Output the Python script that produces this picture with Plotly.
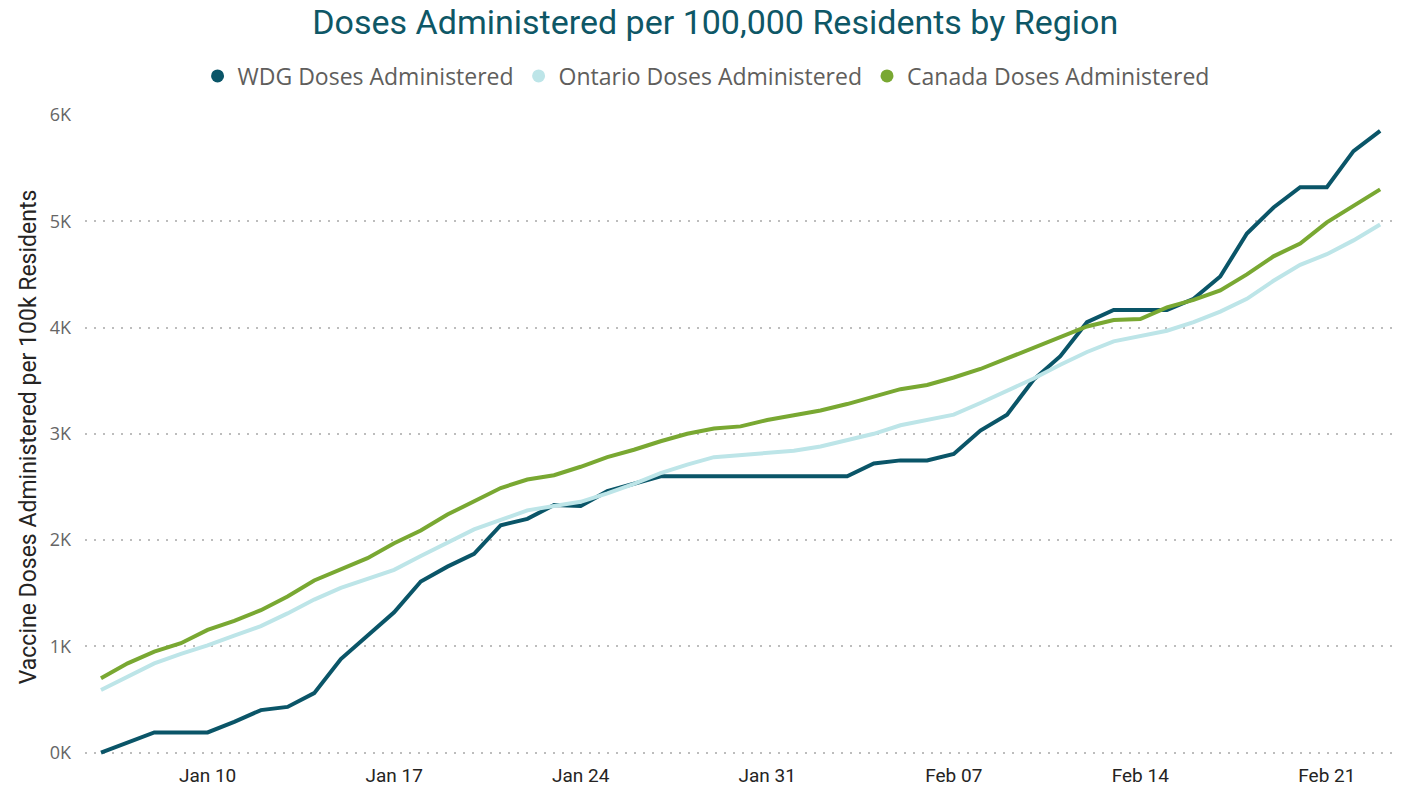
import plotly.graph_objects as go
import pandas as pd

dates = pd.date_range("2021-01-06", "2021-02-23", freq="D")

wdg = [0, 100, 190, 190, 190, 290, 400, 430, 560, 880,
       1100, 1320, 1610, 1750, 1870, 2140, 2200, 2330, 2320, 2460,
       2530, 2600, 2600, 2600, 2600, 2600, 2600, 2600, 2600, 2720,
       2750, 2750, 2810, 3030, 3180, 3510, 3730, 4050, 4165, 4165,
       4165, 4270, 4480, 4885, 5130, 5320, 5320, 5660, 5850]
ontario = [590, 720, 840, 930, 1010, 1100, 1190, 1310, 1440, 1550,
           1640, 1720, 1850, 1970, 2100, 2190, 2280, 2320, 2360, 2440,
           2530, 2630, 2710, 2780, 2800, 2820, 2840, 2880, 2940, 3000,
           3080, 3130, 3180, 3290, 3400, 3520, 3650, 3770, 3870, 3920,
           3970, 4050, 4150, 4270, 4440, 4590, 4690, 4820, 4970]
canada = [700, 840, 950, 1030, 1155, 1240, 1340, 1470, 1620, 1730,
          1830, 1970, 2090, 2240, 2370, 2490, 2570, 2610, 2690, 2780,
          2850, 2930, 3000, 3050, 3070, 3130, 3175, 3220, 3280, 3350,
          3420, 3460, 3530, 3610, 3710, 3810, 3920, 4010, 4070, 4080,
          4190, 4260, 4350, 4500, 4670, 4790, 4990, 5140, 5300]

series_names = ["WDG Doses Administered", "Ontario Doses Administered", "Canada Doses Administered"]
colors = ["#0A5568", "#BDE5E8", "#79A832"]

y_tickvals = [0, 1000, 2000, 3000, 4000, 5000, 6000]
y_ticktext = ["0K", "1K", "2K", "3K", "4K", "5K", "6K"]
x_tickvals = pd.to_datetime(["2021-01-10", "2021-01-17", "2021-01-24", "2021-01-31",
                             "2021-02-07", "2021-02-14", "2021-02-21"])

fig = go.Figure()
for name, vals, col in zip(series_names, [wdg, ontario, canada], colors):
    fig.add_trace(go.Scatter(x=dates, y=vals, mode="lines", name=name,
                             line=dict(color=col, width=4), showlegend=False,
                             hovertemplate="%{x|%b %d}: %{y:,.0f}<extra>" + name + "</extra>"))
    fig.add_trace(go.Scatter(x=[None], y=[None], mode="markers", name=name,
                             marker=dict(color=col, size=13, symbol="circle")))

fig.update_layout(
    width=1408, height=789,
    paper_bgcolor="white", plot_bgcolor="white",
    margin=dict(l=85, r=10, t=115, b=30, autoexpand=False),
    title=dict(text="Doses Administered per 100,000 Residents by Region",
               x=0.508, xanchor="center", y=1 - 22 / 789, yanchor="middle", yref="container",
               font=dict(family="Roboto", size=34, color="#0E5766")),
    legend=dict(orientation="h", x=0.473, xanchor="center", y=1 - 76 / 789, yanchor="middle",
                yref="container", font=dict(family="Open Sans", size=23, color="#605E5C"),
                itemwidth=30, tracegroupgap=0, bgcolor="rgba(0,0,0,0)"),
    showlegend=True,
)
fig.update_xaxes(
    type="date", automargin=False,
    range=["2021-01-05 09:36", "2021-02-23 16:05"],
    tickvals=x_tickvals, tickformat="%b %d",
    showgrid=False, zeroline=False, showline=False, ticks="",
    ticklabelstandoff=3,
    tickfont=dict(family="Roboto", size=19, color="#252423"),
)
fig.update_yaxes(
    range=[-60, 6000], automargin=False,
    tickvals=y_tickvals, ticktext=y_ticktext,
    showgrid=True, gridcolor="#BDBDBD", griddash="2px,7px", gridwidth=1.5,
    zeroline=False, showline=False, ticks="",
    ticklabelstandoff=13,
    tickfont=dict(family="Open Sans", size=18, color="#666666"),
    title=dict(text="Vaccine Doses Administered per 100k Residents",
               font=dict(family="Roboto", size=23, color="#252423"), standoff=6),
)
fig.write_html("out.html", config={"displayModeBar": False},
               post_script="document.body.style.margin='0';")
